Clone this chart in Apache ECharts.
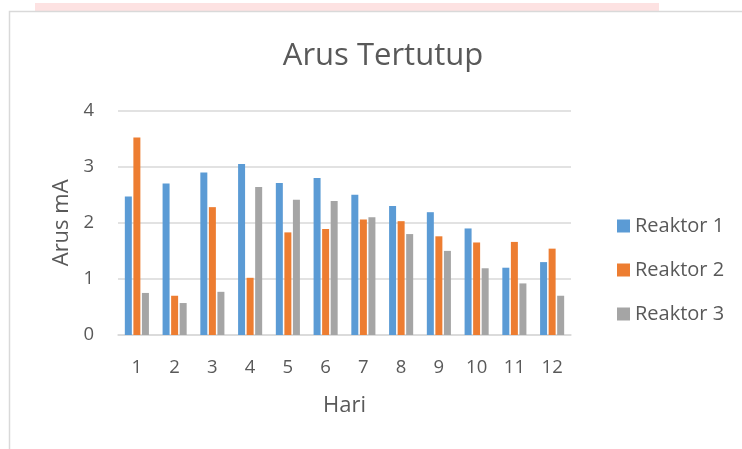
<!DOCTYPE html>
<html>
<head>
<meta charset="utf-8">
<script src="https://cdn.jsdelivr.net/npm/echarts@6/dist/echarts.min.js"></script>
<style>html,body{margin:0;padding:0;background:#fff;}#c{width:742px;height:449px;}</style>
</head>
<body>
<div id="c"></div>
<script>
var categories = ['1','2','3','4','5','6','7','8','9','10','11','12'];
var reaktor1 = [2.47, 2.70, 2.90, 3.05, 2.71, 2.80, 2.50, 2.30, 2.19, 1.90, 1.20, 1.30];
var reaktor2 = [3.52, 0.70, 2.28, 1.02, 1.83, 1.89, 2.06, 2.03, 1.76, 1.65, 1.66, 1.54];
var reaktor3 = [0.75, 0.57, 0.77, 2.64, 2.41, 2.39, 2.10, 1.80, 1.50, 1.19, 0.92, 0.70];
var seriesNames = ['Reaktor 1', 'Reaktor 2', 'Reaktor 3'];
var colors = ['#5b9bd5', '#ed7d31', '#a5a5a5'];

var FONT = '"Open Sans"';
var TXT = '#595959';
var chart = echarts.init(document.getElementById('c'), null, {renderer: 'canvas'});
var data = [reaktor1, reaktor2, reaktor3];
chart.setOption({
  animation: false,
  color: colors,
  graphic: [
    {type: 'rect', shape: {x: 35, y: 3, width: 624, height: 9}, style: {fill: '#fde2e2'}, z: -10},
    {type: 'rect', shape: {x: 9.5, y: 11.5, width: 800, height: 500}, style: {fill: 'none', stroke: '#d9d9d9', lineWidth: 1.5}, z: -5}
  ],
  title: {
    text: 'Arus Tertutup',
    left: 378, top: 36, textAlign: 'center',
    textStyle: {fontFamily: FONT, fontSize: 31, fontWeight: 'normal', color: TXT}
  },
  legend: {
    orient: 'vertical', left: 612, top: 211,
    itemWidth: 13, itemHeight: 13, itemGap: 24,
    icon: 'rect',
    textStyle: {fontFamily: FONT, fontSize: 20, color: TXT},
    data: seriesNames
  },
  grid: {left: 118, right: 171, top: 110.7, bottom: 114},
  xAxis: {
    type: 'category', data: categories,
    name: 'Hari', nameLocation: 'middle', nameGap: 60,
    nameTextStyle: {fontFamily: FONT, fontSize: 22, color: TXT},
    axisLine: {lineStyle: {color: '#d9d9d9', width: 1.5}},
    axisTick: {show: false},
    axisLabel: {fontFamily: FONT, fontSize: 18.5, color: TXT, margin: 23}
  },
  yAxis: {
    type: 'value', min: 0, max: 4, interval: 1,
    name: 'Arus mA', nameLocation: 'middle', nameGap: 44, nameRotate: 90,
    nameTextStyle: {fontFamily: FONT, fontSize: 22, color: TXT},
    axisLine: {show: false}, axisTick: {show: false},
    axisLabel: {fontFamily: FONT, fontSize: 18.5, color: TXT, margin: 24},
    splitLine: {lineStyle: {color: '#d9d9d9', width: 1.5}}
  },
  series: seriesNames.map(function (n, i) {
    return {name: n, type: 'bar', data: data[i], barWidth: 7, barGap: '22%'};
  })
});
</script>
</body>
</html>
